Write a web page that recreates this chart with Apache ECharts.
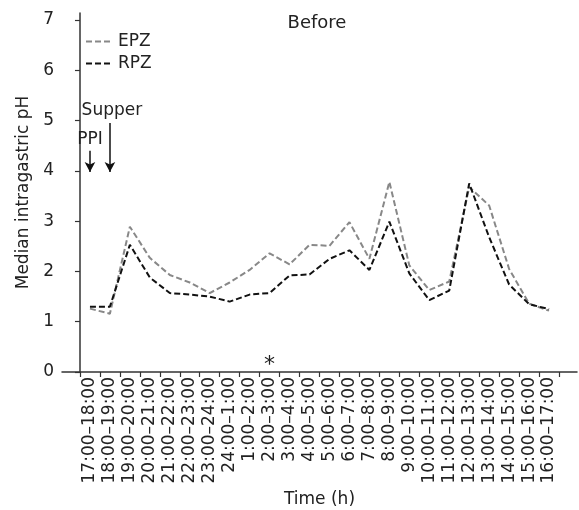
<!DOCTYPE html>
<html>
<head>
<meta charset="utf-8">
<script src="https://cdn.jsdelivr.net/npm/echarts@6/dist/echarts.min.js"></script>
<style>
html,body{margin:0;padding:0;background:#fff;}
#chart{width:579px;height:510px;}
</style>
</head>
<body>
<div id="chart"></div>
<script>
var categories = ['17:00\u201318:00','18:00\u201319:00','19:00\u201320:00','20:00\u201321:00','21:00\u201322:00','22:00\u201323:00','23:00\u201324:00','24:00\u20131:00','1:00\u20132:00','2:00\u20133:00','3:00\u20134:00','4:00\u20135:00','5:00\u20136:00','6:00\u20137:00','7:00\u20138:00','8:00\u20139:00','9:00\u201310:00','10:00\u201311:00','11:00\u201312:00','12:00\u201313:00','13:00\u201314:00','14:00\u201315:00','15:00\u201316:00','16:00\u201317:00'];
var epz = [1.26,1.16,2.89,2.27,1.93,1.78,1.57,1.78,2.03,2.36,2.14,2.53,2.51,2.98,2.25,3.78,2.12,1.63,1.80,3.68,3.31,2.05,1.36,1.22];
var rpz = [1.30,1.30,2.53,1.88,1.57,1.54,1.50,1.40,1.54,1.57,1.92,1.94,2.25,2.42,2.03,2.99,1.96,1.43,1.62,3.75,2.68,1.74,1.35,1.25];
var yTicks = [0,1,2,3,4,5,6,7];

var FONT = 'DejaVu Sans';
var TXT = '#222';
function pts(arr){ return arr.map(function(v,i){ return [i+0.5, v]; }); }
var tickVals = []; for (var i=0;i<=categories.length;i++) tickVals.push(i);
var labelVals = categories.map(function(c,i){ return i+0.5; });

var chart = echarts.init(document.getElementById('chart'));
chart.setOption({
  animation:false,
  backgroundColor:'#fff',
  textStyle:{fontFamily:FONT,color:TXT},
  title:{text:'Before',left:312,top:9,textAlign:'center',textStyle:{fontFamily:FONT,fontSize:18,fontWeight:'normal',color:TXT}},
  legend:{data:['EPZ','RPZ'],orient:'vertical',left:80,top:28,itemWidth:27,itemHeight:10,itemGap:5,
    itemStyle:{opacity:0},
    textStyle:{fontFamily:FONT,fontSize:17,color:TXT}},
  grid:{left:62,right:2,top:13,bottom:138,containLabel:false,outerBoundsMode:'none'},
  xAxis:{type:'value',min:-0.9,max:24.9,
    name:'Time (h)',nameLocation:'middle',nameGap:117,nameTextStyle:{fontFamily:FONT,fontSize:17,color:TXT},
    axisLine:{lineStyle:{color:'#333',width:1.5}},
    axisTick:{show:true,length:5,customValues:tickVals,lineStyle:{color:'#333',width:1.2}},
    axisLabel:{customValues:labelVals,rotate:90,margin:5,fontFamily:FONT,fontSize:17,color:TXT,
      formatter:function(v){ return categories[Math.round(v-0.5)]; }},
    splitLine:{show:false}},
  yAxis:{type:'value',min:0,max:7.14,
    name:'Median intragastric pH',nameLocation:'middle',nameGap:27,nameTextStyle:{fontFamily:FONT,fontSize:17,color:TXT},
    axisLine:{show:true,lineStyle:{color:'#333',width:1.5}},
    axisTick:{show:true,length:5,customValues:yTicks,lineStyle:{color:'#333',width:1.2}},
    axisLabel:{customValues:yTicks,margin:8,fontFamily:FONT,fontSize:17,color:TXT},
    splitLine:{show:false}},
  series:[
    {name:'EPZ',type:'line',data:pts(epz),symbol:'none',lineStyle:{color:'#888',width:2,type:[6,3]},itemStyle:{color:'#888'},z:2},
    {name:'RPZ',type:'line',data:pts(rpz),symbol:'none',lineStyle:{color:'#111',width:2,type:[6,3]},itemStyle:{color:'#111'},z:3,
      markLine:{silent:true,symbol:['none','arrow'],symbolSize:[8,10],lineStyle:{color:'#111',width:1.5,type:'solid'},label:{show:false},
        data:[[{coord:[0.5,4.4]},{coord:[0.5,3.98]}],[{coord:[1.5,4.95]},{coord:[1.5,3.98]}]]},
      markPoint:{silent:true,symbol:'circle',symbolSize:0,
        label:{show:true,fontFamily:FONT,color:TXT},
        data:[
          {coord:[0.5,4.62],value:'PPI',label:{formatter:'PPI',fontSize:17}},
          {coord:[1.6,5.2],value:'Supper',label:{formatter:'Supper',fontSize:17}},
          {coord:[9.5,0.14],value:'*',label:{formatter:'*',fontSize:22}}
        ]}}
  ]
});
</script>
</body>
</html>
